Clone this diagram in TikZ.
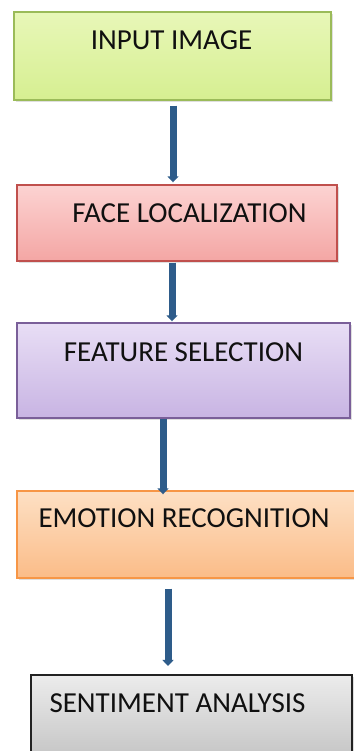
\documentclass[tikz,border=0pt]{standalone}
\usepackage{fontspec}
\setmainfont{Carlito}
\usetikzlibrary{arrows.meta,shadows}
\definecolor{arrowblue}{HTML}{2E5C8A}
\definecolor{gDraw}{HTML}{9BBB59}
\definecolor{gTop}{HTML}{E8F7B8}
\definecolor{gBot}{HTML}{D6EF91}
\definecolor{rDraw}{HTML}{C0504D}
\definecolor{rTop}{HTML}{FCD3D2}
\definecolor{rBot}{HTML}{F4A6A4}
\definecolor{pDraw}{HTML}{7A5F99}
\definecolor{pTop}{HTML}{E8DEF5}
\definecolor{pBot}{HTML}{C8B4E3}
\definecolor{oDraw}{HTML}{F79646}
\definecolor{oTop}{HTML}{FDE0C4}
\definecolor{oBot}{HTML}{FBBC88}
\definecolor{kDraw}{HTML}{222222}
\definecolor{kTop}{HTML}{ECECEC}
\definecolor{kBot}{HTML}{C4C4C4}
\definecolor{txt}{HTML}{101010}
\tikzset{
  box/.style={draw, line width=1.4pt, inner sep=0pt, rectangle,
    drop shadow={opacity=0.25, shadow xshift=1.5pt, shadow yshift=-2pt}},
  greenbox/.style={box, draw=gDraw, top color=gTop, bottom color=gBot},
  redbox/.style={box, draw=rDraw, top color=rTop, bottom color=rBot},
  purplebox/.style={box, draw=pDraw, top color=pTop, bottom color=pBot},
  orangebox/.style={box, draw=oDraw, top color=oTop, bottom color=oBot},
  graybox/.style={box, line width=2pt, draw=kDraw, top color=kTop, bottom color=kBot},
  label/.style={anchor=base, inner sep=0pt, font=\fontsize{29}{33}\selectfont, text=txt},
  arr/.style={draw=arrowblue, line width=7pt, -{Triangle[width=11pt,length=6pt]}},
}
\begin{document}
\begin{tikzpicture}[x=1pt,y=1pt]
\useasboundingbox (0,0) rectangle (353,751);
\fill[white] (0,0) rectangle (353,751);
\node[greenbox, minimum width=317pt, minimum height=88pt] (b1) at (172.5,695) {};
\node[redbox, minimum width=320pt, minimum height=76pt] (b2) at (177,528) {};
\node[purplebox, minimum width=333pt, minimum height=95pt] (b3) at (183.5,380.5) {};
\node[orangebox, minimum width=343pt, minimum height=87pt] (b4) at (188.5,216.5) {};
\node[graybox, minimum width=321pt, minimum height=85pt] (b5) at (191.5,33.5) {};
\node[label] (t1) at (171.5,701) {INPUT IMAGE};
\node[label] (t2) at (189.5,528) {FACE LOCALIZATION};
\node[label] (t3) at (183.5,389) {FEATURE SELECTION};
\node[label] (t4) at (184,223) {EMOTION RECOGNITION};
\node[label] (t5) at (177.5,38) {SENTIMENT ANALYSIS};
\coordinate (x1) at (173,0);
\coordinate (x2) at (172,0);
\coordinate (x3) at (163,0);
\coordinate (x4) at (168,0);
\draw[arr, shorten <=5pt, shorten >=2pt] (b1.south -| x1) -- (b2.north -| x1);
\draw[arr, shorten <=1pt, shorten >=1pt] (b2.south -| x2) -- (b3.north -| x2);
\draw[arr, shorten <=0pt, shorten >=-4pt] (b3.south -| x3) -- (b4.north -| x3);
\draw[arr, shorten <=10pt, shorten >=8pt] (b4.south -| x4) -- (b5.north -| x4);
\end{tikzpicture}
\end{document}
